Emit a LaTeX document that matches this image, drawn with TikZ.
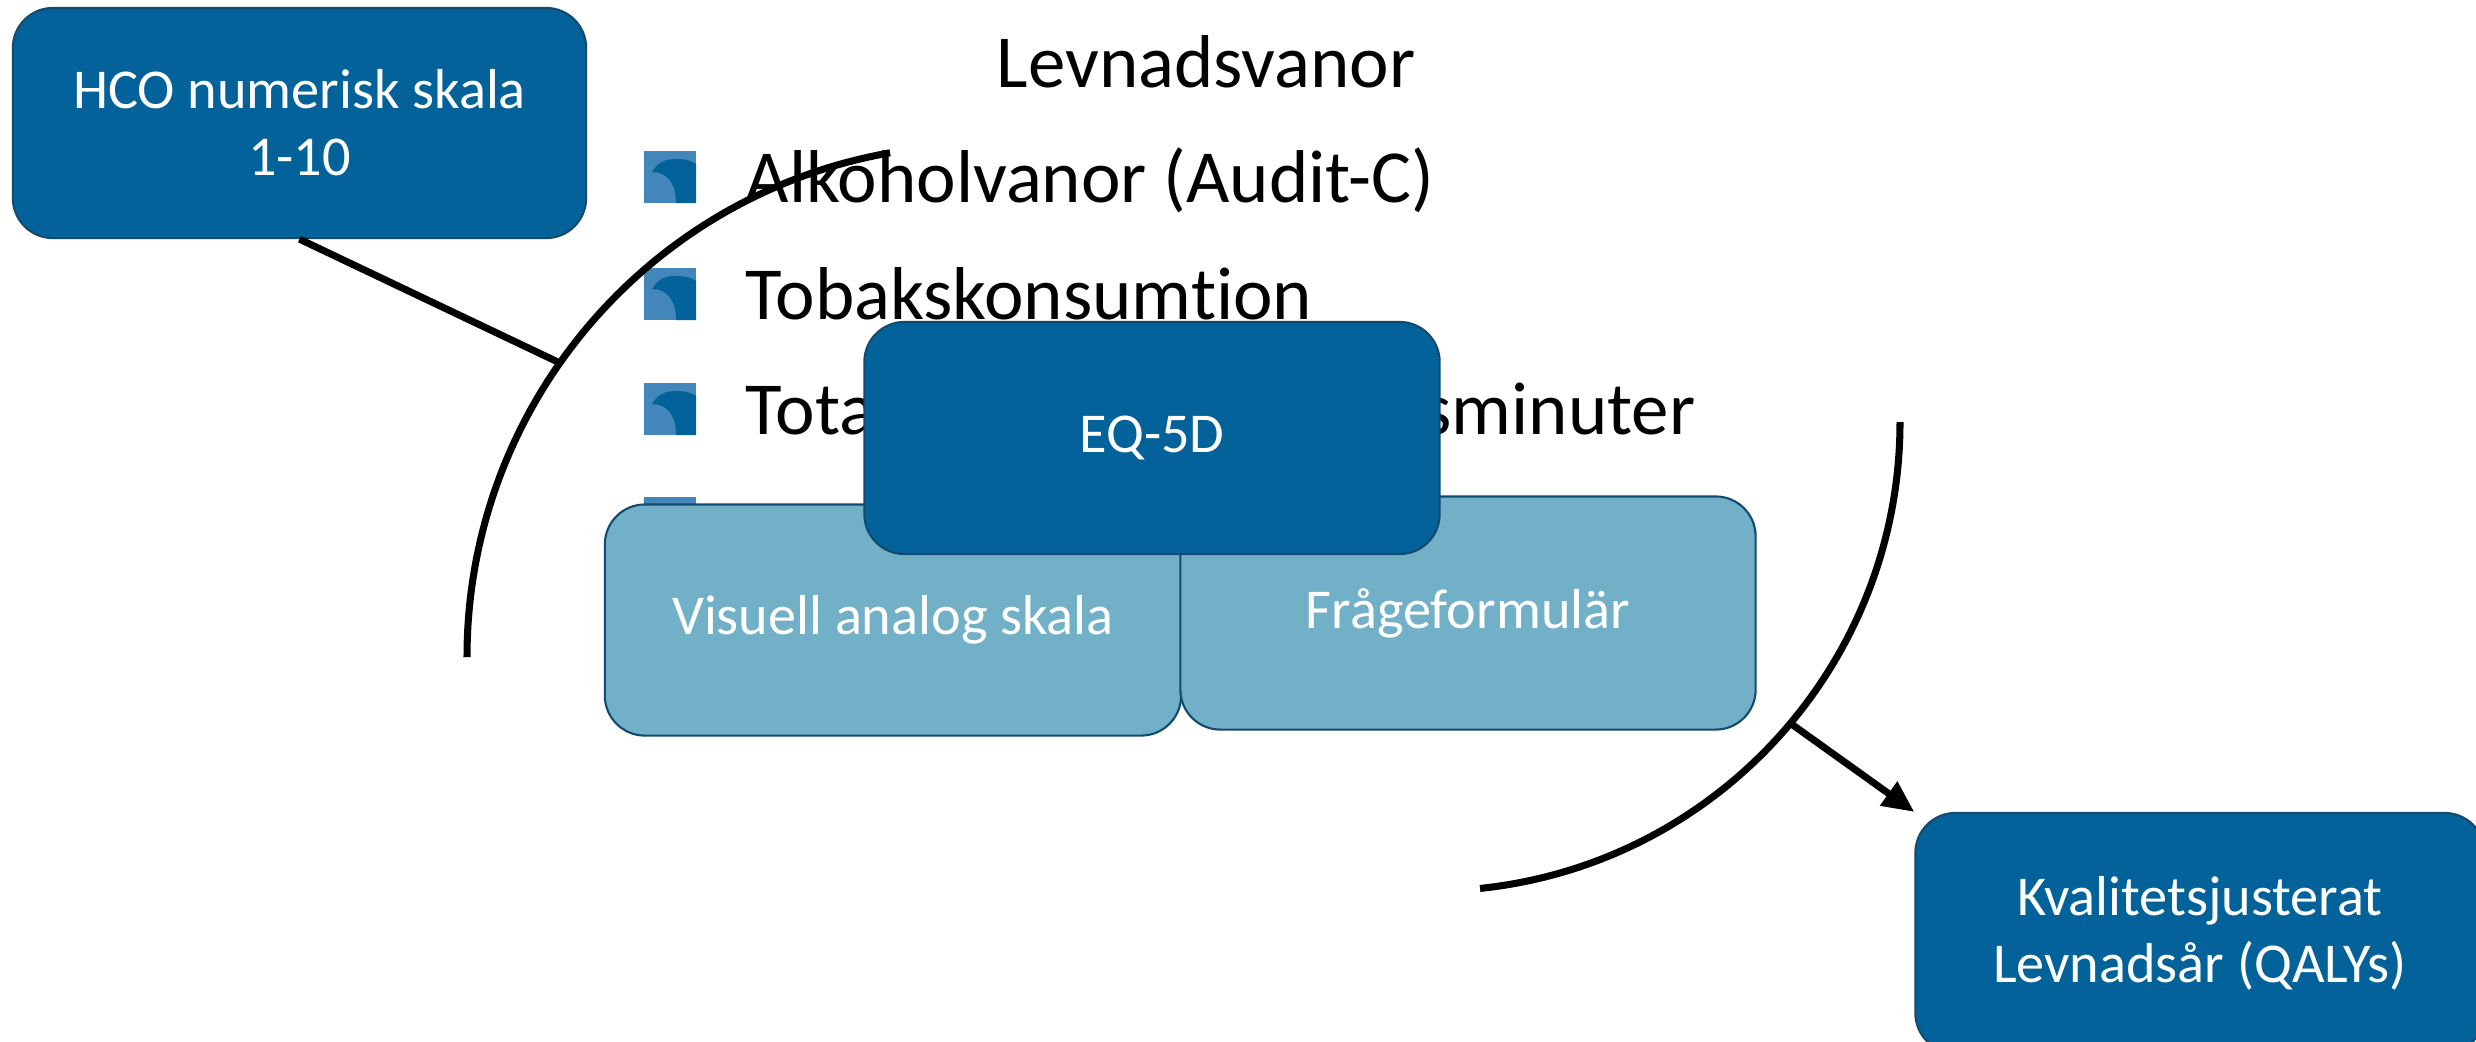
\documentclass[tikz,border=0pt]{standalone}
\usepackage{fontspec}
\setmainfont{Carlito}[Ligatures={NoCommon}]
\usetikzlibrary{arrows.meta}
\definecolor{eqblue}{RGB}{3,98,153}
\definecolor{ljusblue}{RGB}{114,176,200}
\definecolor{kantblue}{RGB}{18,74,112}
\definecolor{bulletlight}{RGB}{66,134,186}
\tikzset{
	mainbox/.style={draw=kantblue, line width=0.6pt, fill=eqblue, rounded corners=0.4cm,
			text=white, align=center, inner sep=0pt, font=\fontsize{16}{19}\selectfont},
	subbox/.style={mainbox, fill=ljusblue},
	bullettext/.style={anchor=base west, inner sep=0pt, font=\fontsize{21.3}{25}\selectfont},
	bow/.style={line width=2pt, black}
}
% square bullet, #1 = y of its centre
\newcommand{\levbullet}[1]{%
	\fill [bulletlight] (644,#1-26) rectangle (696,#1+26);
	\fill [eqblue] (652,#1-5) .. controls (658,#1-15) and (665,#1-18) .. (676,#1-18)
		.. controls (686,#1-18) and (692,#1-16) .. (696,#1-13) -- (696,#1+26) -- (676,#1+26)
		.. controls (676,#1+5) and (666,#1-5) .. (652,#1-5) -- cycle;
}

\begin{document}
\begin{tikzpicture}[x=0.01cm, y=-0.01cm]
		\useasboundingbox (0,0) rectangle (2476,1041);

		\node [anchor=base, inner sep=0pt, font=\fontsize{21.3}{25}\selectfont] (levnad) at (1206,87) {Levnadsvanor};

		\levbullet{177}
		\levbullet{294}
		\levbullet{409}
		\levbullet{523}
		\node [bullettext] (alko)	at (745,202) {Alkoholvanor (Audit-C)};
		\node [bullettext] (tobak)	at (745,319) {Tobakskonsumtion};
		\node [bullettext] (total)	at (745,434) {Totala fysiska\hspace{3pt} aktivitetsminuter};

		\draw [bow]	(467,657) arc [start angle=180, end angle=260, radius=512];
		\draw [bow]	(1900,422) arc [start angle=0, end angle=84, radius=469];
		\coordinate (hcoend) at (560,363);
		\coordinate (qstart) at (1790,723);

		\node [mainbox, minimum width=5.73cm, minimum height=2.30cm] (hco) at (299.5,123) {HCO numerisk skala\\1-10};
		\node [subbox, minimum width=5.76cm, minimum height=2.31cm] (vas) at (893,620) {Visuell analog skala};
		\node [subbox, minimum width=5.75cm, minimum height=2.33cm] (fragor) at (1468,613) {Frågeformulär};
		\node [mainbox, minimum width=5.75cm, minimum height=2.32cm] (eqfem) at (1152,438) {EQ-5D};
		\node [mainbox, minimum width=5.69cm, minimum height=2.40cm] (qaly) at (2200,933) {Kvalitetsjusterat\\Levnadsår (QALYs)};

		\draw [bow]	(hco.south) -- (hcoend);
		\draw [bow, -{Triangle[length=9pt, width=8pt]}]	(qstart) -- (qaly.north west);
	\end{tikzpicture}
\end{document}
